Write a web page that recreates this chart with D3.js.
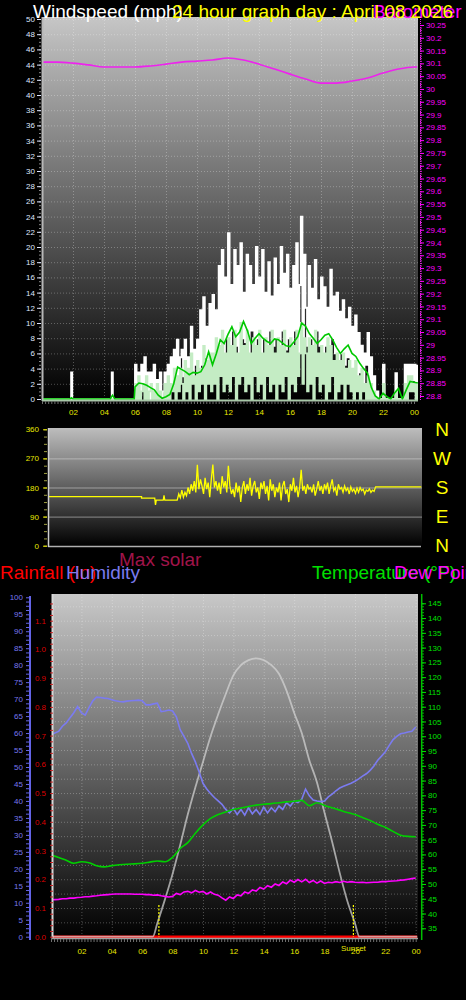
<!DOCTYPE html>
<html><head><meta charset="utf-8">
<script src="https://cdn.jsdelivr.net/npm/d3@7"></script>
<style>body{margin:0;background:#000;}svg{display:block;}</style>
</head><body>
<svg id="chart" width="466" height="1000"></svg>
<script>
// ================= DATA =================
// shared hour ticks
const hourTickPos = [2,4,6,8,10,12,14,16,18,20,22,24];
const hourTickLabels = ["02","04","06","08","10","12","14","16","18","20","22","00"];

// --- Top panel: wind (mph) and barometer (inHg)
const windTicks = [0,2,4,6,8,10,12,14,16,18,20,22,24,26,28,30,32,34,36,38,40,42,44,46,48,50];
const pressTicks = [28.8,28.85,28.9,28.95,29,29.05,29.1,29.15,29.2,29.25,29.3,29.35,29.4,29.45,29.5,29.55,29.6,29.65,29.7,29.75,29.8,29.85,29.9,29.95,30,30.05,30.1,30.15,30.2,30.25];
const pressTickLabels = ["28.8","28.85","28.9","28.95","29","29.05","29.1","29.15","29.2","29.25","29.3","29.35","29.4","29.45","29.5","29.55","29.6","29.65","29.7","29.75","29.8","29.85","29.9","29.95","30","30.05","30.1","30.15","30.2","30.25"];

const gustEarly = [[0,0],[1.85,0],[1.88,3.5],[1.95,0],[4.45,0],[4.5,3.5],[4.57,0],[5.95,0]];
const gustStart = 6.0, gustStep = 0.1;
const gust = [
 4.5,1,3.5,0.5,4.5,2,5.5,1,3.5,0,
 3.5,0,4.5,1,2.5,0,3.5,0,1,3.5,
 1,4.5,2,5.5,1.5,6.5,3,7.8,2,5.5,
 6.5,3,7.8,2.5,5.5,4,9.5,3,6.5,4.5,
 7.8,3.5,11.7,4.5,13.4,5.5,9.5,4,12.5,6,
 13.7,5,11.7,6.5,17.5,7,19.6,5.5,16,8,
 21.8,6,15,9,19.6,7,17.5,5.5,20.5,8,
 14,7.5,19,6,17.5,9,15,6.5,20,8,
 16,6,19.6,8,14,5.5,18,9,13.5,7,
 18.5,8,15,6,20,9,16.5,6.5,19,8,
 14.5,7,17.5,9,20.5,6,15,24,8,19,
 12,7,17.5,8,14.5,6,18.3,9,13,7,
 16,5.5,14.7,7,12,5,17,8,13.5,6,
 14,5,11.5,6,13,4.5,10.5,5.5,12,4,
 9.5,4,11,3,8.7,3.5,7,2,6,4.5,
 8.7,1.5,5.5,0,3,0,1,0,0,0,
 4.5,0,0,0,0,0,0,0,3.4,0,
 0,0,0,0,4.5,0,4.5,2,4.5,2.5,
 4.5,2,4.5];

const windEarly = [[0,0],[5.95,0]];
const wind = [
 2,0,3,0,1,2,0,3,0,1,
 2,0,1,0,2,0,1,0,0,2,
 0,3,0,2,1,4,0,3,1,4,
 2,0,5,1,4,0,6,2,3,0,
 5,1,4,2,7,0,5,2,6,1,
 6,2,8,0,7,3,9,1,6,2,
 8,1,7,3,9,0,6,2,10,3,
 7,1,9,2,6,0,8,3,7,1,
 9,2,6,0,8,3,7,1,9,2,
 6,0,8,2,7,1,9,3,6,0,
 8,2,7,1,9,3,6,10,2,8,
 6,1,8,2,7,0,9,3,6,1,
 7,2,6,0,8,1,7,3,5,0,
 6,1,5,2,6,0,4,2,5,1,
 4,0,5,1,3,0,4,1,2,0,
 3,0,2,0,1,0,0,0,0,0,
 2,0,0,0,0,0,0,0,1,0,
 0,0,0,0,2,0,3,1,3,1,
 2,0,2];

const avgEarly = [[0,0],[1.8,0],[1.9,0.15],[2.0,0],[4.4,0],[4.55,0.5],[4.7,0],[5.95,0]];
const avgStart = 6.0, avgStep = 0.25;
const windAvg = [
 1.6,2.1,2.0,1.8, 1.5,1.2,0.5,0.1, 0.3,0.6,2.0,4.2, 3.9,3.6,3.2,3.5,
 3.4,3.6,4.5,6.2, 4.5,6.0,7.8,7.3, 8.5,9.5,8.2,8.8, 10.2,9.0,7.3,8.0,
 8.6,8.0,7.6,7.3, 7.9,7.8,7.4,7.0, 6.9,7.5,8.2,10.0, 9.6,8.6,8.0,7.3,
 7.8,8.4,8.6,7.8, 6.8,6.0,6.6,7.1, 6.0,5.6,4.7,4.0, 3.4,1.5,0.4,0,
 0.75,0.3,0,0.8, 1.4,0,1.2,2.3, 2.2,2.1];

const pressHours = [0,1,2,3,4,5,6,7,8,9,10,11,12,13,14,15,16,17,18,19,20,21,22,23,24,24.2];
const pressure = [30.105,30.105,30.101,30.094,30.086,30.086,30.086,30.090,30.097,30.105,30.109,30.113,30.121,30.113,30.097,30.078,30.058,30.039,30.023,30.023,30.031,30.043,30.062,30.078,30.086,30.086];

// --- Wind direction panel (degrees)
const dirTicks = [0,90,180,270,360];
const compass = ["N","W","S","E","N"];
const dirHead = [[0,152],[6.1,152],[6.1,147],[6.95,147],[7.0,126],[7.05,141],[7.5,141],[7.55,156],[7.6,141],[8.3,141]];
const dirStart = 8.4, dirStep = 0.1;
const direction = [
 141,160,148,172,150,165,
 155,180,160,190,170,200,165,250,175,205,
 185,160,210,175,195,150,205,251,180,200,
 170,195,160,215,180,200,165,247,185,160,
 175,150,195,165,185,135,180,200,160,190,
 170,210,155,185,200,165,180,145,195,175,
 200,160,185,140,205,170,190,150,180,165,
 195,140,185,200,160,175,135,190,170,210,
 165,185,150,180,235,170,185,160,190,175,
 180,165,190,155,175,200,170,185,160,190,
 175,195,160,185,205,170,180,155,190,175,
 180,165,185,170,178,160,182,168,175,162,
 178,165,180,170,175,160,172,168,176,165,
 172,168,182];
const dirTail = [[21.25,182],[24.15,182]];

// --- Bottom panel
const humTicks = [0,5,10,15,20,25,30,35,40,45,50,55,60,65,70,75,80,85,90,95,100];
const rainTicks = [0,0.1,0.2,0.3,0.4,0.5,0.6,0.7,0.8,0.9,1,1.1];
const tempTicks = [35,40,45,50,55,60,65,70,75,80,85,90,95,100,105,110,115,120,125,130,135,140,145];

const humStep = 0.25;
const humidity = [
 59.5,60,60.5,62,63,64.5,66,67.8,
 66,65.3,67.5,69.5,70.6,70.5,70.3,70.2,
 69.8,69.5,69.3,69.2,69.4,69.5,69.6,69.7,
 69.5,68.3,68.3,68.6,68.8,66.3,66.5,66.8,
 66.5,64.8,61,59,57,54,51.5,48.5,
 45.2,43.5,42.2,41,40,39,37.5,36.5,
 37.8,36,37.5,35.8,38,36.2,37.5,36,
 38.2,36.5,38,36.8,38.5,37.5,39.5,38.5,
 40,39.5,40.5,43.5,41.5,40.3,40,39.8,
 40,41.2,42,43,43.8,44.3,44.8,45.2,
 45.8,46.5,47.3,48,49,50.3,52,53.2,
 54.5,56.3,58,59,59.8,60,60.3,60.5,
 61.8];

const tempStep = 0.5;
const temperature = [
 59.8,59,58,57,57.5,57.2,56.2,55.8,
 56.2,56.5,56.7,56.8,57,57.4,57.8,57.5,
 59,62,64,67.2,70,72.2,73.5,74.4,
 75.2,75.7,76.2,76.7,77,77.2,77.5,77.8,
 78,78.3,76.5,77.5,76.6,75.8,75,74.2,
 73.5,72.5,71.5,70.2,69.2,67.8,66.5,66.1,
 66];

const dewStep = 0.25;
const dewPoint = [
 44.6,44.7,44.8,45,45,45.2,45.2,45.4,
 45.5,45.7,45.7,45.9,46,46.2,46.3,46.4,
 46.5,46.6,46.6,46.6,46.6,46.6,46.5,46.5,
 46.5,46.4,46.4,46.2,46.3,46,45.8,45.6,
 45.8,46.8,46.4,47.3,47.5,47,47.8,47.2,
 47.5,46.6,47.3,46.5,46.2,45.3,44.5,45.6,
 45.1,46.3,46,47.3,46.8,48,47.6,48.8,
 48.3,49.4,48.9,50,49.5,50.7,50.1,51.3,
 50.6,51.5,50.7,51.6,50.5,51.2,50.3,51,
 50.2,50.6,50.4,50.8,50.5,50.9,50.6,50.8,
 50.6,50.5,50.6,50.4,50.5,50.6,50.6,50.8,
 50.8,50.9,51,51.1,51.3,51.4,51.6,51.8,
 52];

const solarHours = [0,6.7,7.0,7.5,8.0,8.5,9.0,9.5,10.0,10.5,11.0,11.5,12.0,12.5,13.0,13.5,14.0,14.5,15.0,15.5,16.0,16.5,17.0,17.5,18.0,18.5,19.0,19.5,20.0,20.3,24.1];
const maxSolar = [0,0,40,110,185,270,360,440,515,590,655,715,770,800,815,820,815,800,775,725,660,600,520,455,365,280,188,105,40,0,0];

const rainHours = [0,24.1];
const rainfall = [0,0];
const sunEvents = [7.1,19.9];

// ================= DRAW =================
const FONT = '"Liberation Sans", Arial, sans-serif';
const svg = d3.select('#chart');
svg.append('rect').attr('width',466).attr('height',1000).attr('fill','#000');
const defs = svg.append('defs');
function vgrad(id, top, bottom){
  const g = defs.append('linearGradient').attr('id',id).attr('x1',0).attr('y1',0).attr('x2',0).attr('y2',1);
  g.append('stop').attr('offset','0%').attr('stop-color',top);
  g.append('stop').attr('offset','100%').attr('stop-color',bottom);
}
vgrad('bg1','#c6c6c6','#000000');
vgrad('bg2','#bdbdbd','#000000');
vgrad('bg3','#c8c8c8','#000000');
function clip(id,x,y,w,h){ defs.append('clipPath').attr('id',id).append('rect').attr('x',x).attr('y',y).attr('width',w).attr('height',h); }
function txt(x,y,s,fill,size,anchor){
  return svg.append('text').attr('x',x).attr('y',y).text(s).attr('fill',fill)
    .attr('font-size',size).attr('font-family',FONT).attr('text-anchor',anchor||'start');
}
function styleAxis(g,color,size){
  g.select('.domain').remove();
  g.selectAll('line').attr('stroke',color);
  g.selectAll('text').attr('fill',color).attr('font-size',size).attr('font-family',FONT);
}
function grid(g){
  g.select('.domain').remove();
  g.selectAll('text').remove();
  g.selectAll('line').attr('stroke','#ffffff').attr('stroke-opacity',0.28).attr('stroke-dasharray','1,2');
}

// ---------- TOP PANEL ----------
const xT = d3.scaleLinear().domain([0,24]).range([42,414]);
const yW = d3.scaleLinear().domain([0,50]).range([399,19]);
const yP = d3.scaleLinear().domain([28.8,30.25]).range([396,25]);
svg.append('rect').attr('x',42).attr('y',17).attr('width',376).attr('height',383).attr('fill','url(#bg1)');
grid(svg.append('g').attr('transform','translate(42,0)').call(d3.axisLeft(yW).tickValues(windTicks.slice(1)).tickSize(-376)));
grid(svg.append('g').attr('transform','translate(0,17)').call(d3.axisBottom(xT).tickValues(hourTickPos).tickSize(383)));
clip('cTop',43,17,375,383);
const pT = svg.append('g').attr('clip-path','url(#cTop)');
const lineW = d3.line().x(d=>xT(d[0])).y(d=>yW(d[1])).curve(d3.curveStepAfter);
const gustPts = gustEarly.concat(gust.map((v,i)=>[gustStart+i*gustStep,v]));
const windPts = windEarly.concat(wind.map((v,i)=>[gustStart+i*gustStep,v]));
const avgPts = avgEarly.concat(windAvg.map((v,i)=>[avgStart+i*avgStep,v]));
pT.append('path').attr('d',lineW(gustPts)).attr('fill','none').attr('stroke','#ffffff').attr('stroke-width',1.9);
pT.append('path').attr('d',lineW(windPts)).attr('fill','none').attr('stroke','#c4ecc4').attr('stroke-width',1.8);
pT.append('path').attr('d',d3.line().x(d=>xT(d[0])).y(d=>yW(d[1])).curve(d3.curveLinear)(avgPts)).attr('fill','none').attr('stroke','#00c800').attr('stroke-width',1.6);
pT.append('path').attr('d',d3.line().x((d,i)=>xT(pressHours[i])).y(d=>yP(d)).curve(d3.curveMonotoneX)(pressure)).attr('fill','none').attr('stroke','#ee22ee').attr('stroke-width',1.6);
// edges
svg.append('line').attr('x1',42.5).attr('x2',42.5).attr('y1',17).attr('y2',401).attr('stroke','#b8b8b8').attr('stroke-width',2);
svg.append('line').attr('x1',42).attr('x2',418).attr('y1',400.5).attr('y2',400.5).attr('stroke','#a8c8a8').attr('stroke-width',2);
// left axis
styleAxis(svg.append('g').attr('transform','translate(41,0)').call(d3.axisLeft(yW).ticks(100).tickFormat('').tickSize(2)),'#8a8a8a',8);
styleAxis(svg.append('g').attr('transform','translate(41,0)').call(d3.axisLeft(yW).tickValues(windTicks).tickSize(4).tickPadding(2)),'#dfe6ff',8);
// right pressure axis
svg.append('line').attr('x1',420.5).attr('x2',420.5).attr('y1',17).attr('y2',400).attr('stroke','#ee22ee').attr('stroke-dasharray','1,1');
styleAxis(svg.append('g').attr('transform','translate(420,0)').call(d3.axisRight(yP).ticks(145).tickFormat('').tickSize(2)),'#cc22cc',8);
styleAxis(svg.append('g').attr('transform','translate(420,0)').call(d3.axisRight(yP).tickValues(pressTicks).tickFormat((d,i)=>pressTickLabels[i]).tickSize(4).tickPadding(2)),'#ff00ff',8);
// bottom hour axis
styleAxis(svg.append('g').attr('transform','translate(0,401)').call(d3.axisBottom(xT).ticks(96).tickFormat('').tickSize(3)),'#707070',8);
styleAxis(svg.append('g').attr('transform','translate(0,401)').call(d3.axisBottom(xT).tickValues(hourTickPos).tickFormat((d,i)=>hourTickLabels[i]).tickSize(0).tickPadding(8)),'#e8e800',8);
// titles
txt(33,18,'Windspeed (mph)','#ffffff',19);
txt(373,18,'Barometer (inHg)','#ff00ff',19);
txt(172,18,'24 hour graph day : April 08 2026','#ffff00',19);

// ---------- DIRECTION PANEL ----------
const xD = d3.scaleLinear().domain([0,24]).range([47,419]);
const yD = d3.scaleLinear().domain([0,360]).range([545.7,429.3]);
svg.append('rect').attr('x',48).attr('y',428).attr('width',374).attr('height',118).attr('fill','url(#bg2)');
const gd = svg.append('g').attr('transform','translate(48,0)').call(d3.axisLeft(yD).tickValues([90,180,270]).tickSize(-374));
gd.select('.domain').remove(); gd.selectAll('text').remove();
gd.selectAll('line').attr('stroke','#d8d8d8').attr('stroke-opacity',0.55);
clip('cDir',48,428,374,118);
const dirPts = dirHead.concat(direction.map((v,i)=>[dirStart+i*dirStep,v])).concat(dirTail);
svg.append('g').attr('clip-path','url(#cDir)').append('path')
  .attr('d',d3.line().x(d=>xD(d[0])).y(d=>yD(d[1]))(dirPts))
  .attr('fill','none').attr('stroke','#ffff00').attr('stroke-width',1.3);
svg.append('line').attr('x1',48).attr('x2',421).attr('y1',546.5).attr('y2',546.5).attr('stroke','#b0b0b0').attr('stroke-width',1.5);
svg.append('line').attr('x1',48.5).attr('x2',48.5).attr('y1',428).attr('y2',547).attr('stroke','#d0d0d0').attr('stroke-width',1.5);
styleAxis(svg.append('g').attr('transform','translate(47,0)').call(d3.axisLeft(yD).tickValues([0,22.5,45,67.5,90,112.5,135,157.5,180,202.5,225,247.5,270,292.5,315,337.5,360]).tickFormat('').tickSize(3)),'#a0a040',8);
styleAxis(svg.append('g').attr('transform','translate(47,0)').call(d3.axisLeft(yD).tickValues(dirTicks).tickSize(4).tickPadding(4)),'#e8e800',8);
compass.forEach((c,i)=> txt(442,yD(dirTicks[4-i])+6.5,c,'#ffff00',19,'middle'));

// ---------- BOTTOM PANEL ----------
const xB = d3.scaleLinear().domain([0,24]).range([51,415.7]);
const yH = d3.scaleLinear().domain([0,100]).range([936.7,597.3]);
const yR = d3.scaleLinear().domain([0,1.1]).range([936.7,620.7]);
const yTp = d3.scaleLinear().domain([35,145]).range([928.3,603.3]);
const yS = d3.scaleLinear().domain([0,1000]).range([936.7,597.3]);
svg.append('rect').attr('x',52).attr('y',594).attr('width',366).attr('height',344).attr('fill','url(#bg3)');
grid(svg.append('g').attr('transform','translate(52,0)').call(d3.axisLeft(yR).tickValues(d3.range(0.05,1.19,0.05)).tickSize(-366)));
grid(svg.append('g').attr('transform','translate(0,594)').call(d3.axisBottom(xB).tickValues(hourTickPos).tickSize(344)));
clip('cBot',53,594,365,346);
const pB = svg.append('g').attr('clip-path','url(#cBot)');
pB.append('path').attr('d',d3.line().x((d,i)=>xB(rainHours[i])).y(d=>yR(d))(rainfall)).attr('fill','none').attr('stroke','#ff0000').attr('stroke-width',2.5);
pB.append('path').attr('d',d3.line().x((d,i)=>xB(solarHours[i])).y(d=>yS(d)).curve(d3.curveMonotoneX)(maxSolar)).attr('fill','none').attr('stroke','#d4d4d4').attr('stroke-opacity',0.72).attr('stroke-width',1.8);
sunEvents.forEach(h=> pB.append('line').attr('x1',xB(h)).attr('x2',xB(h)).attr('y1',905).attr('y2',937).attr('stroke','#ffff00').attr('stroke-width',1.2).attr('stroke-dasharray','2,1.5'));
pB.append('path').attr('d',d3.line().x((d,i)=>xB(i*humStep)).y(d=>yH(d))(humidity)).attr('fill','none').attr('stroke','#7b7bf0').attr('stroke-width',1.6);
pB.append('path').attr('d',d3.line().x((d,i)=>xB(i*tempStep)).y(d=>yTp(d)).curve(d3.curveMonotoneX)(temperature)).attr('fill','none').attr('stroke','#00d000').attr('stroke-width',1.6);
pB.append('path').attr('d',d3.line().x((d,i)=>xB(i*dewStep)).y(d=>yTp(d))(dewPoint)).attr('fill','none').attr('stroke','#ff00ff').attr('stroke-width',1.6);
svg.append('line').attr('x1',52.5).attr('x2',52.5).attr('y1',594).attr('y2',939).attr('stroke','#d8d8d8').attr('stroke-width',2);
svg.append('line').attr('x1',52).attr('x2',418).attr('y1',938.5).attr('y2',938.5).attr('stroke','#a0a0a0').attr('stroke-width',1.5);
// humidity axis
svg.append('line').attr('x1',30).attr('x2',30).attr('y1',596).attr('y2',940).attr('stroke','#6464e8').attr('stroke-width',2);
styleAxis(svg.append('g').attr('transform','translate(29,0)').call(d3.axisLeft(yH).tickValues(d3.range(0,100.1,1.25)).tickFormat('').tickSize(3)),'#6464e8',8);
styleAxis(svg.append('g').attr('transform','translate(26,0)').call(d3.axisLeft(yH).tickValues(humTicks).tickSize(0).tickPadding(3)),'#7878f0',8);
// rain axis
styleAxis(svg.append('g').attr('transform','translate(53,0)').call(d3.axisLeft(yR).tickValues(d3.range(0,1.17,0.02)).tickFormat('').tickSize(3)),'#cc2020',8);
styleAxis(svg.append('g').attr('transform','translate(49,0)').call(d3.axisLeft(yR).tickValues(rainTicks).tickSize(0).tickPadding(3)),'#dd0000',8);
// temperature axis
svg.append('line').attr('x1',421.7).attr('x2',421.7).attr('y1',594).attr('y2',940).attr('stroke','#00c000').attr('stroke-width',1.5);
styleAxis(svg.append('g').attr('transform','translate(422,0)').call(d3.axisRight(yTp).ticks(110).tickFormat('').tickSize(2)),'#00b000',8);
styleAxis(svg.append('g').attr('transform','translate(422,0)').call(d3.axisRight(yTp).tickValues(tempTicks).tickSize(4).tickPadding(2)),'#00e000',8);
// hour axis
styleAxis(svg.append('g').attr('transform','translate(0,939)').call(d3.axisBottom(xB).ticks(96).tickFormat('').tickSize(3)),'#707070',8);
styleAxis(svg.append('g').attr('transform','translate(0,939)').call(d3.axisBottom(xB).tickValues(hourTickPos).tickFormat((d,i)=>hourTickLabels[i]).tickSize(0).tickPadding(9)),'#e8e800',8);
txt(xB(sunEvents[1]),951,'Sunset','#e8e800',8,'middle');
// titles
txt(119,566,'Max solar','#a0144a',19);
txt(0,579,'Rainfall (in)','#ff0000',19);
txt(66,579,'Humidity','#7b7bef',19);
txt(312,579,'Temperature (°F)','#00e000',19);
txt(394,579,'Dew Point (°F)','#ff00ff',19);
</script>
</body></html>
